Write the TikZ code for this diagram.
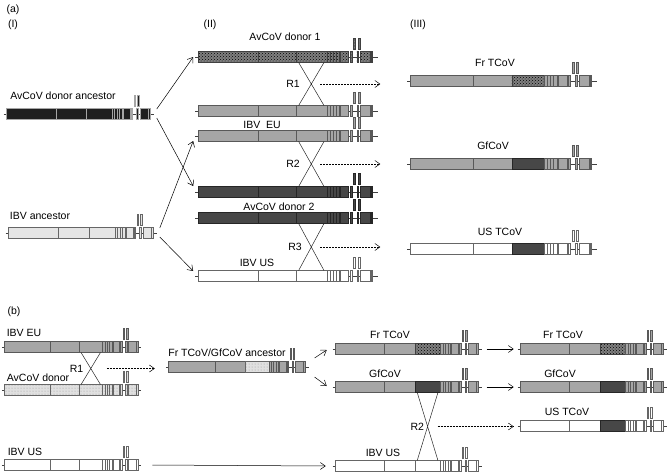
\documentclass[tikz,border=0pt]{standalone}
\usepackage{fontspec}
\setmainfont{Liberation Sans}
\usetikzlibrary{patterns,arrows.meta,calc,positioning}
\begin{document}
\begin{tikzpicture}[x=1pt,y=-1pt,font=\fontsize{10.5}{12}\selectfont]
		\tikzset{seg/.style = {line width=.4pt},
			avblk/.style = {seg, fill=black!88, draw=black!35},
			eugray/.style = {seg, fill=black!35, draw=black!65},
			ltgray/.style = {seg, fill=black!10, draw=black!60},
			dkgray/.style = {seg, fill=black!72, draw=black!85},
			wbox/.style = {seg, fill=white, draw=black!60},
			hatch/.style = {seg, preaction={fill=black!50}, pattern=crosshatch dots, pattern color=black, draw=black!75},
			dotfill/.style = {seg, preaction={fill=black!12}, pattern=dots, pattern color=black!40, draw=black!60},
			cross/.style = {black!85, line width=.5pt},
			arr/.style = {-{Straight Barb[length=5pt,width=7pt]}, line width=.5pt},
			dasharr/.style = {arr, dash pattern=on 2pt off 1pt},
			pics/genome/.style 2 args = {code = {
				\draw[black!75, line width=.6pt] (-1.6,0) -- (102.6,0);
				\path[#1] (0,-5.5) rectangle (34.6,5.5);
				\path[#1] (34.6,-5.5) rectangle (56,5.5);
				\path[#2] (56,-5.5) rectangle (73.6,5.5);
				\foreach \a in {73.6,75.35,77.1,78.85}
					\path[#1] (\a,-5.5) rectangle ++(1.75,11);
				\path[#1] (81.2,-5.5) rectangle (86.1,5.5);
				\path[#1] (87,-5.5) rectangle (87.9,5.5);
				\path[#1] (90.7,-5.5) rectangle (91.6,5.5);
				\path[#1] (92.9,-5.5) rectangle (98.5,5.5);
				\path[#1] (98.9,-5.5) rectangle (99.8,5.5);
				% the two marks above
				\path[#1] (88.85,-19) rectangle (89.95,-7.5);
				\path[#1] (91.35,-19) rectangle (92.45,-7.5);
				\coordinate (-w) at (-1.6,0);
				\coordinate (-e) at (102.6,0);
				\coordinate (-tl) at (57.5,-5.5);
				\coordinate (-tr) at (72,-5.5);
				\coordinate (-bl) at (57.5,5.5);
				\coordinate (-br) at (72,5.5);
			}}}

		\useasboundingbox (0,0) rectangle (669,472);

		% (a)
		\node (t_a) at (13,10) {(a)};
		\node (t_I) at (13,25) {(I)};
		\node (t_II) at (210,25) {(II)};
		\node (t_III) at (418,25) {(III)};

		\node (l_I_1) at (63,96) {AvCoV donor ancestor};
		\pic[xscale=1.44] (I_1) at (6,114) {genome={avblk}{avblk}};
		\node (l_I_2) at (40,216) {IBV ancestor};
		\pic[xscale=1.45] (I_2) at (8,233) {genome={ltgray}{ltgray}};

		\node (l_II_1) at (285,37) {AvCoV donor 1};
		\pic[xscale=1.75] (II_1) at (198,57) {genome={hatch}{hatch}};
		\pic[xscale=1.75] (II_2) at (198,111) {genome={eugray}{eugray}};
		\node (l_II_3) at (262,125) {IBV\ \ EU};
		\pic[xscale=1.75] (II_3) at (198,136) {genome={eugray}{eugray}};
		\pic[xscale=1.75] (II_4) at (198,192) {genome={dkgray}{dkgray}};
		\node (l_II_5) at (279,207) {AvCoV donor 2};
		\pic[xscale=1.75] (II_5) at (198,218) {genome={dkgray}{dkgray}};
		\node (l_II_6) at (257,263) {IBV US};
		\pic[xscale=1.75] (II_6) at (198,276) {genome={wbox}{wbox}};

		\node (l_III_1) at (495,63) {Fr TCoV};
		\pic[xscale=1.82] (III_1) at (410,81) {genome={eugray}{hatch}};
		\node (l_III_2) at (493,146) {GfCoV};
		\pic[xscale=1.82] (III_2) at (410,164) {genome={eugray}{dkgray}};
		\node (l_III_3) at (500,232) {US TCoV};
		\pic[xscale=1.82] (III_3) at (410,249) {genome={wbox}{dkgray}};

		\draw[arr] ([shift={(3,-5)}]I_1-e) -- ([xshift=-2pt]II_1-w);
		\draw[arr] ([shift={(3,4)}]I_1-e) -- ([shift={(-2,-6)}]II_4-w);
		\draw[arr] ([shift={(3,-5)}]I_2-e) -- ([shift={(-2,5)}]II_3-w);
		\draw[arr] ([shift={(3,4)}]I_2-e) -- ([shift={(-2,-5)}]II_6-w);

		\draw[cross] (II_1-bl) -- (II_2-tr) (II_1-br) -- (II_2-tl);
		\draw[cross] (II_3-bl) -- (II_4-tr) (II_3-br) -- (II_4-tl);
		\draw[cross] (II_5-bl) -- (II_6-tr) (II_5-br) -- (II_6-tl);
		\coordinate (x_1) at ($(II_1-bl)!.5!(II_2-tr)$);
		\coordinate (x_2) at ($(II_3-bl)!.5!(II_4-tr)$);
		\coordinate (x_3) at ($(II_5-bl)!.5!(II_6-tr)$);
		\node[left=8pt of x_1] (r_1) {R1};
		\node[left=8pt of x_2] (r_2) {R2};
		\node[left=6pt of x_3] (r_3) {R3};
		\draw[dasharr] ([xshift=9pt]x_1) -- ([xshift=69pt]x_1);
		\draw[dasharr] ([xshift=9pt]x_2) -- ([xshift=69pt]x_2);
		\draw[dasharr] ([xshift=9pt]x_3) -- ([xshift=69pt]x_3);

		% (b)
		\node (t_b) at (14,312) {(b)};
		\node (l_b_1) at (24,333) {IBV EU};
		\pic[xscale=1.34] (b_1) at (4,347) {genome={eugray}{eugray}};
		\node (l_b_2) at (38,378) {AvCoV donor};
		\pic[xscale=1.34] (b_2) at (4,390) {genome={dotfill}{dotfill}};
		\node (l_b_3) at (227,353) {Fr TCoV/GfCoV ancestor};
		\pic[xscale=1.37] (b_3) at (168,367) {genome={eugray}{dotfill}};

		\node (l_b_4) at (390,335) {Fr TCoV};
		\pic[xscale=1.43] (b_4) at (335,349) {genome={eugray}{hatch}};
		\node (l_b_5) at (385,374) {GfCoV};
		\pic[xscale=1.43] (b_5) at (335,387) {genome={eugray}{dkgray}};
		\node (l_b_6) at (563,335) {Fr TCoV};
		\pic[xscale=1.43] (b_6) at (520,349) {genome={eugray}{hatch}};
		\node (l_b_7) at (560,374) {GfCoV};
		\pic[xscale=1.43] (b_7) at (520,387) {genome={eugray}{dkgray}};
		\node (l_b_8) at (567,412) {US TCoV};
		\pic[xscale=1.43] (b_8) at (520,426) {genome={wbox}{dkgray}};

		\node (l_b_9) at (25,452) {IBV US};
		\pic[xscale=1.34] (b_9) at (4,465) {genome={wbox}{wbox}};
		\node (l_b_10) at (383,453) {IBV US};
		\pic[xscale=1.43] (b_10) at (335,466) {genome={wbox}{wbox}};

		\draw[cross] (b_1-bl) -- (b_2-tr) (b_1-br) -- (b_2-tl);
		\coordinate (x_b1) at ($(b_1-bl)!.5!(b_2-tr)$);
		\node[left=4pt of x_b1] (r_b1) {R1};
		\draw[dasharr] ([xshift=16pt]x_b1) -- ($(x_b1 -| b_3-w)+(-11,0)$);

		\draw[arr] ([shift={(6,-9)}]b_3-e) -- ([shift={(-6,1)}]b_4-w);
		\draw[arr] ([shift={(6,10)}]b_3-e) -- ([shift={(-6,-1)}]b_5-w);
		\draw[arr] ([xshift=5pt]b_4-e) -- ([xshift=-4pt]b_6-w);
		\draw[arr] ([xshift=5pt]b_5-e) -- ([xshift=-4pt]b_7-w);

		\draw[cross] (b_5-bl) -- (b_10-tr) (b_5-br) -- (b_10-tl);
		\coordinate (x_b2) at ($(b_5-bl)!.5!(b_10-tr)$);
		\node[left=0pt of x_b2] (r_b2) {R2};
		\draw[dasharr] ([xshift=10pt]x_b2) -- ($(x_b2 -| b_8-w)+(-4,0)$);

		\draw[arr] ([xshift=11pt]b_9-e) -- ([xshift=-7pt]b_10-w);
	\end{tikzpicture}
\end{document}
